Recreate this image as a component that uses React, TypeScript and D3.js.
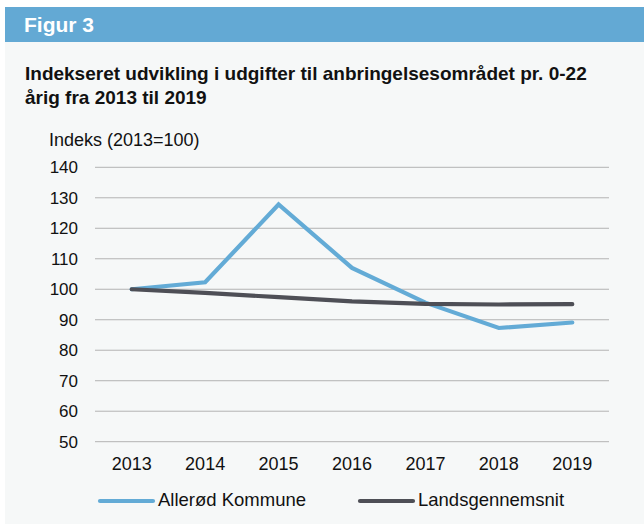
import React, { useEffect, useRef } from "react";
import * as d3 from "d3";

const years = ["2013", "2014", "2015", "2016", "2017", "2018", "2019"];
const allerod = [100, 102.3, 127.8, 107, 95.6, 87.3, 89.1];
const landsgennemsnit = [100, 98.8, 97.4, 96.0, 95.2, 95.0, 95.1];
const yTicks = [50, 60, 70, 80, 90, 100, 110, 120, 130, 140];

const series = [
  { name: "Allerød Kommune", values: allerod, color: "#63abd6" },
  { name: "Landsgennemsnit", values: landsgennemsnit, color: "#4e4f56" },
];

const App = () => {
  const svgRef = useRef<SVGSVGElement>(null);

  useEffect(() => {
    const width = 644;
    const height = 524;
    const font = "'Liberation Sans', Arial, sans-serif";

    const svg = d3
      .select(svgRef.current)
      .attr("width", width)
      .attr("height", height)
      .style("font-family", font);

    svg.selectAll("*").remove();

    // panel + header
    svg.append("rect").attr("width", width).attr("height", height).attr("fill", "#ffffff");
    svg.append("rect").attr("x", 5).attr("y", 42).attr("width", width - 5).attr("height", height - 42).attr("fill", "#f6f8f8");
    svg.append("rect").attr("x", 5).attr("y", 7).attr("width", width - 5).attr("height", 35).attr("fill", "#63a9d4");
    svg.append("text").attr("x", 24).attr("y", 32).attr("fill", "#fff")
      .style("font-size", "21px").style("font-weight", "bold").text("Figur 3");

    const title = svg.append("text").attr("fill", "#111").style("font-size", "19px").style("font-weight", "bold");
    title.append("tspan").attr("x", 25).attr("y", 80).text("Indekseret udvikling i udgifter til anbringelsesområdet pr. 0-22");
    title.append("tspan").attr("x", 25).attr("y", 104).text("årig fra 2013 til 2019");

    svg.append("text").attr("x", 49).attr("y", 146).attr("fill", "#111")
      .style("font-size", "18px").text("Indeks (2013=100)");

    const x = d3.scaleBand().domain(years).range([95, 609]);
    const y = d3.scaleLinear().domain([50, 140]).range([441.7, 167.3]);

    // gridlines
    svg.append("g").selectAll("line").data(yTicks).join("line")
      .attr("x1", 95).attr("x2", 609)
      .attr("y1", (d) => y(d)).attr("y2", (d) => y(d))
      .attr("stroke", "#b3b3b3").attr("stroke-width", 1);

    // y tick labels
    svg.append("g").selectAll("text").data(yTicks).join("text")
      .attr("x", 78).attr("y", (d) => y(d)).attr("dy", "0.36em")
      .attr("text-anchor", "end").attr("fill", "#111")
      .style("font-size", "17px").text((d) => d);

    // x tick labels
    svg.append("g").selectAll("text").data(years).join("text")
      .attr("x", (d) => (x(d) as number) + x.bandwidth() / 2).attr("y", 470)
      .attr("text-anchor", "middle").attr("fill", "#111")
      .style("font-size", "18px").text((d) => d);

    const line = d3.line<number>()
      .x((_, i) => (x(years[i]) as number) + x.bandwidth() / 2)
      .y((d) => y(d));

    // dark line drawn last, it sits on top at 2013
    svg.append("g").selectAll("path").data(series).join("path")
      .attr("d", (d) => line(d.values))
      .attr("fill", "none").attr("stroke", (d) => d.color)
      .attr("stroke-width", 4.2).attr("stroke-linecap", "round").attr("stroke-linejoin", "miter");

    // legend
    const legendPos = [
      { lx: 100, tx: 158 },
      { lx: 360, tx: 418 },
    ];
    const legend = svg.append("g").selectAll("g").data(series).join("g");
    legend.append("line")
      .attr("x1", (_, i) => legendPos[i].lx).attr("x2", (_, i) => legendPos[i].lx + 53)
      .attr("y1", 501).attr("y2", 501)
      .attr("stroke", (d) => d.color).attr("stroke-width", 4.2).attr("stroke-linecap", "round");
    legend.append("text")
      .attr("x", (_, i) => legendPos[i].tx).attr("y", 506)
      .attr("fill", "#111").style("font-size", "18.5px").text((d) => d.name);
  }, []);

  return (
    <div style={{ position: "absolute", left: 0, top: 0 }}>
      <svg ref={svgRef}></svg>
    </div>
  );
};

export default App;
